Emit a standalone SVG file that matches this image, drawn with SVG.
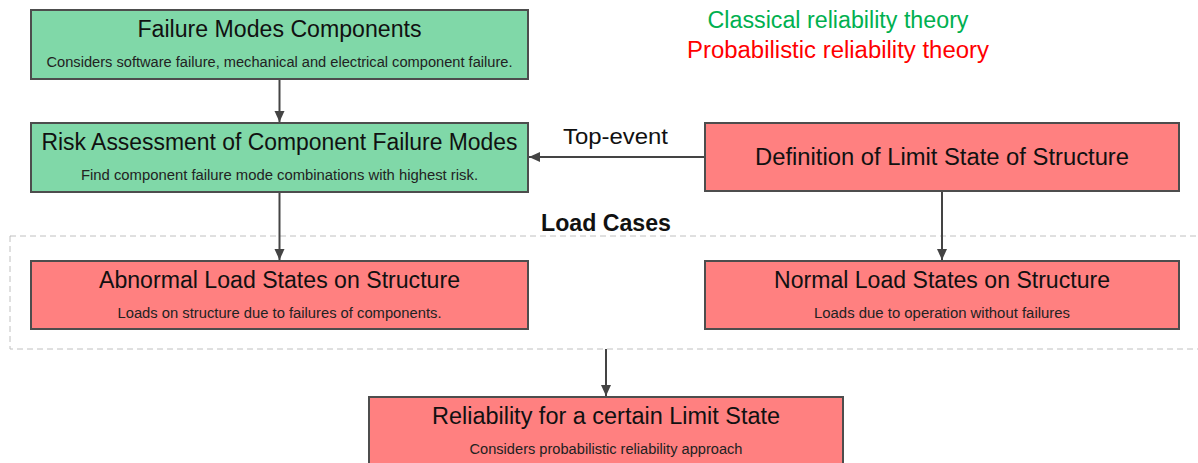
<svg xmlns="http://www.w3.org/2000/svg" width="1198" height="463" viewBox="0 0 1198 463">
<style>
.g{fill:#80d8a8;stroke:#4d4d4d;stroke-width:2}
.r{fill:#ff8080;stroke:#4d4d4d;stroke-width:2}
.t{font-family:"Liberation Sans",Arial,sans-serif;font-size:23px;fill:#111;text-anchor:middle}
.s{font-family:"Liberation Sans",Arial,sans-serif;font-size:14px;fill:#222;text-anchor:middle}
.c{stroke:#444;stroke-width:2;fill:none}
</style>
<defs>
<marker id="ah" markerWidth="12" markerHeight="12" refX="11" refY="5.5" orient="auto" markerUnits="userSpaceOnUse">
<path d="M0,0.5 L11,5.5 L0,10.5 Z" fill="#444"/>
</marker>
</defs>
<rect x="10" y="236" width="1200" height="113" fill="none" stroke="#c0c0c0" stroke-width="1" stroke-dasharray="6,4"/>
<text x="606" y="231" class="t" style="font-weight:bold" textLength="130" lengthAdjust="spacingAndGlyphs">Load Cases</text>
<text x="838" y="28" class="t" style="fill:#00b050" textLength="261" lengthAdjust="spacingAndGlyphs">Classical reliability theory</text>
<text x="838" y="58" class="t" style="fill:#ff0000" textLength="302" lengthAdjust="spacingAndGlyphs">Probabilistic reliability theory</text>
<g id="connectors">
<line class="c" x1="279.5" y1="79" x2="279.5" y2="122" marker-end="url(#ah)"/>
<line class="c" x1="705" y1="157" x2="529" y2="157" marker-end="url(#ah)"/>
<line class="c" x1="279.5" y1="192" x2="279.5" y2="260" marker-end="url(#ah)"/>
<line class="c" x1="942" y1="191" x2="942" y2="260" marker-end="url(#ah)"/>
<line class="c" x1="606" y1="349" x2="606" y2="396" marker-end="url(#ah)"/>
<text x="615.5" y="144" class="t" style="font-size:22px" textLength="105" lengthAdjust="spacingAndGlyphs">Top-event</text>
</g>
<g id="failure-modes">
<rect class="g" x="31" y="10" width="497" height="69"/>
<text x="279.5" y="37" class="t" textLength="284" lengthAdjust="spacingAndGlyphs">Failure Modes Components</text>
<text x="279.5" y="67" class="s" textLength="466" lengthAdjust="spacingAndGlyphs">Considers software failure, mechanical and electrical component failure.</text>
</g>
<g id="risk-assessment">
<rect class="g" x="31" y="123" width="497" height="69"/>
<text x="279.5" y="150" class="t" textLength="476" lengthAdjust="spacingAndGlyphs">Risk Assessment of Component Failure Modes</text>
<text x="279.5" y="180" class="s" textLength="397" lengthAdjust="spacingAndGlyphs">Find component failure mode combinations with highest risk.</text>
</g>
<g id="limit-state">
<rect class="r" x="705" y="123" width="474" height="68"/>
<text x="942" y="165" class="t" textLength="374" lengthAdjust="spacingAndGlyphs">Definition of Limit State of Structure</text>
</g>
<g id="abnormal-load">
<rect class="r" x="31" y="261" width="497" height="68"/>
<text x="279.5" y="288" class="t" textLength="361" lengthAdjust="spacingAndGlyphs">Abnormal Load States on Structure</text>
<text x="279.5" y="318" class="s" textLength="324" lengthAdjust="spacingAndGlyphs">Loads on structure due to failures of components.</text>
</g>
<g id="normal-load">
<rect class="r" x="705" y="261" width="474" height="68"/>
<text x="942" y="288" class="t" textLength="336" lengthAdjust="spacingAndGlyphs">Normal Load States on Structure</text>
<text x="942" y="318" class="s" textLength="256" lengthAdjust="spacingAndGlyphs">Loads due to operation without failures</text>
</g>
<g id="reliability">
<rect class="r" x="369" y="397" width="474" height="70"/>
<text x="606" y="424" class="t" textLength="348" lengthAdjust="spacingAndGlyphs">Reliability for a certain Limit State</text>
<text x="606" y="454" class="s" textLength="273" lengthAdjust="spacingAndGlyphs">Considers probabilistic reliability approach</text>
</g>
</svg>
